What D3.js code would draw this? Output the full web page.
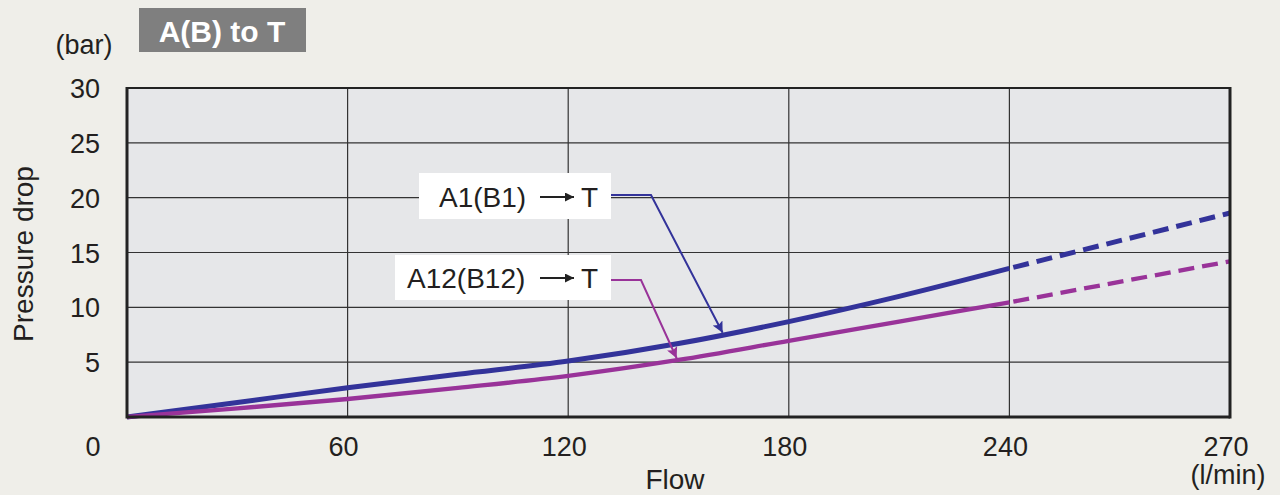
<!DOCTYPE html>
<html><head><meta charset="utf-8">
<script src="https://cdn.jsdelivr.net/npm/d3@7"></script>
<style>body{margin:0;background:#efeee9;}svg{display:block;font-family:"Liberation Sans",Arial,sans-serif;}</style>
</head><body><svg id="c" width="1280" height="495"></svg>
<script>
const xTicks = [0, 60, 120, 180, 240, 270];
const yTicks = [5, 10, 15, 20, 25, 30];
const flow = [0, 30, 60, 90, 120, 150, 180, 210, 240, 270];
const seriesA1 = [0, 1.33, 2.67, 3.9, 5.1, 6.7, 8.7, 11.0, 13.55, 18.6];
const seriesA12 = [0, 0.79, 1.64, 2.65, 3.75, 5.2, 6.95, 8.7, 10.45, 14.2];
const solidLimit = 240;
const labels = ["A1(B1)", "A12(B12)"];
const colors = ["#33339a", "#993399"];

const svg = d3.select("#c");
const L = 127, R = 1230, T = 88, B = 417;
const x = d3.scaleLinear().domain(xTicks)
  .range(xTicks.map((d, i) => L + i * (R - L) / 5));
const y = d3.scaleLinear().domain([0, 30]).range([B, T]);

svg.append("rect").attr("width", 1280).attr("height", 495).attr("fill", "#efeee9");
svg.append("rect").attr("x", L).attr("y", T).attr("width", R - L).attr("height", B - T).attr("fill", "#e6e7e9");

// grid
const g = svg.append("g");
g.selectAll(".vx").data(xTicks.slice(1, -1)).join("line")
  .attr("x1", d => x(d)).attr("x2", d => x(d)).attr("y1", T).attr("y2", B)
  .attr("stroke", "#333").attr("stroke-width", 1.2);
g.selectAll(".hy").data(yTicks.slice(0, -1)).join("line")
  .attr("y1", d => y(d)).attr("y2", d => y(d)).attr("x1", L).attr("x2", R)
  .attr("stroke", "#333").attr("stroke-width", 1.2);

// axes text
const fs = 27;
const tc = "#231f20";
svg.selectAll(".yt").data(yTicks).join("text")
  .attr("x", 100).attr("y", d => y(d) + 10).attr("text-anchor", "end")
  .attr("font-size", fs).attr("fill", tc).text(d => d);
svg.selectAll(".xt").data(xTicks).join("text")
  .attr("x", d => d === 0 ? 93 : x(d) - 4).attr("y", 456).attr("text-anchor", "middle")
  .attr("font-size", fs).attr("fill", tc).text(d => d);
svg.append("text").attr("x", 675).attr("y", 489).attr("text-anchor", "middle")
  .attr("font-size", 28).attr("fill", tc).text("Flow");
svg.append("text").attr("x", 1228).attr("y", 484).attr("text-anchor", "middle")
  .attr("font-size", fs).attr("fill", tc).text("(l/min)");
svg.append("text").attr("x", 84).attr("y", 54).attr("text-anchor", "middle")
  .attr("font-size", fs).attr("fill", tc).text("(bar)");
svg.append("text").attr("transform", "translate(33,254) rotate(-90)").attr("text-anchor", "middle")
  .attr("font-size", 28).attr("fill", tc).text("Pressure drop");

// title
svg.append("rect").attr("x", 139).attr("y", 8).attr("width", 167).attr("height", 44).attr("fill", "#7f7f7f");
svg.append("text").attr("x", 222).attr("y", 42).attr("text-anchor", "middle")
  .attr("font-size", 30).attr("font-weight", "bold").attr("fill", "#fff").text("A(B) to T");

// curves
const line = d3.line().x(d => x(d[0])).y(d => y(d[1])).curve(d3.curveMonotoneX);
[seriesA1, seriesA12].forEach((s, i) => {
  const pts = flow.map((f, j) => [f, s[j]]);
  const solid = pts.filter(p => p[0] <= solidLimit);
  const dashed = pts.filter(p => p[0] >= solidLimit);
  const sw = i === 0 ? 5 : 4.3;
  svg.append("path").attr("d", line(solid)).attr("fill", "none")
    .attr("stroke", colors[i]).attr("stroke-width", sw);
  svg.append("path").attr("d", line(dashed)).attr("fill", "none")
    .attr("stroke", colors[i]).attr("stroke-width", sw).attr("stroke-dasharray", "16,8").attr("stroke-dashoffset", -4);
});

// frame
svg.append("line").attr("x1", L).attr("x2", R).attr("y1", T).attr("y2", T).attr("stroke", "#222").attr("stroke-width", 2);
svg.append("line").attr("x1", L).attr("x2", R).attr("y1", B).attr("y2", B).attr("stroke", "#222").attr("stroke-width", 3);
svg.append("line").attr("x1", L).attr("x2", L).attr("y1", T - 1).attr("y2", B + 1.5).attr("stroke", "#222").attr("stroke-width", 3);
svg.append("line").attr("x1", R).attr("x2", R).attr("y1", T - 1).attr("y2", B + 1.5).attr("stroke", "#222").attr("stroke-width", 3);

// annotations
const defs = svg.append("defs");
colors.forEach((c, i) => {
  defs.append("marker").attr("id", "m" + i).attr("viewBox", "0 0 10 10").attr("refX", 10).attr("refY", 5)
    .attr("markerWidth", 16).attr("markerHeight", 11).attr("markerUnits", "userSpaceOnUse")
    .attr("orient", "auto").append("path").attr("d", "M0,0L10,5L0,10L2,5Z").attr("fill", c);
});
defs.append("marker").attr("id", "mt").attr("viewBox", "0 0 10 10").attr("refX", 10).attr("refY", 5)
  .attr("markerWidth", 15).attr("markerHeight", 9).attr("markerUnits", "userSpaceOnUse")
  .attr("orient", "auto").append("path").attr("d", "M0,0L10,5L0,10Z").attr("fill", "#222");

const ann = [
  {box: [419, 173, 192, 46], tx: 439, ty: 207, knee: [651, 195], tipFlow: 162},
  {box: [395, 255, 216, 45], tx: 407, ty: 288, knee: [641, 280], tipFlow: 149.5}
];
ann.forEach((a, i) => {
  const s = i === 0 ? seriesA1 : seriesA12;
  const tipY = y(d3.scaleLinear().domain(flow).range(s)(a.tipFlow)) - 2;
  const tipX = x(a.tipFlow);
  svg.append("rect").attr("x", a.box[0]).attr("y", a.box[1]).attr("width", a.box[2]).attr("height", a.box[3]).attr("fill", "#fff");
  svg.append("text").attr("x", a.tx).attr("y", a.ty)
    .attr("font-size", 28).attr("fill", tc).text(labels[i]);
  svg.append("line").attr("x1", 540).attr("x2", 574).attr("y1", a.ty - 10).attr("y2", a.ty - 10)
    .attr("stroke", "#222").attr("stroke-width", 2.2).attr("marker-end", "url(#mt)");
  svg.append("text").attr("x", 581).attr("y", a.ty).attr("font-size", 28).attr("fill", tc).text("T");
  svg.append("polyline").attr("points", `${a.box[0] + a.box[2]},${a.knee[1]} ${a.knee[0]},${a.knee[1]} ${tipX},${tipY}`)
    .attr("fill", "none").attr("stroke", colors[i]).attr("stroke-width", 2).attr("marker-end", `url(#m${i})`);
});
</script></body></html>
